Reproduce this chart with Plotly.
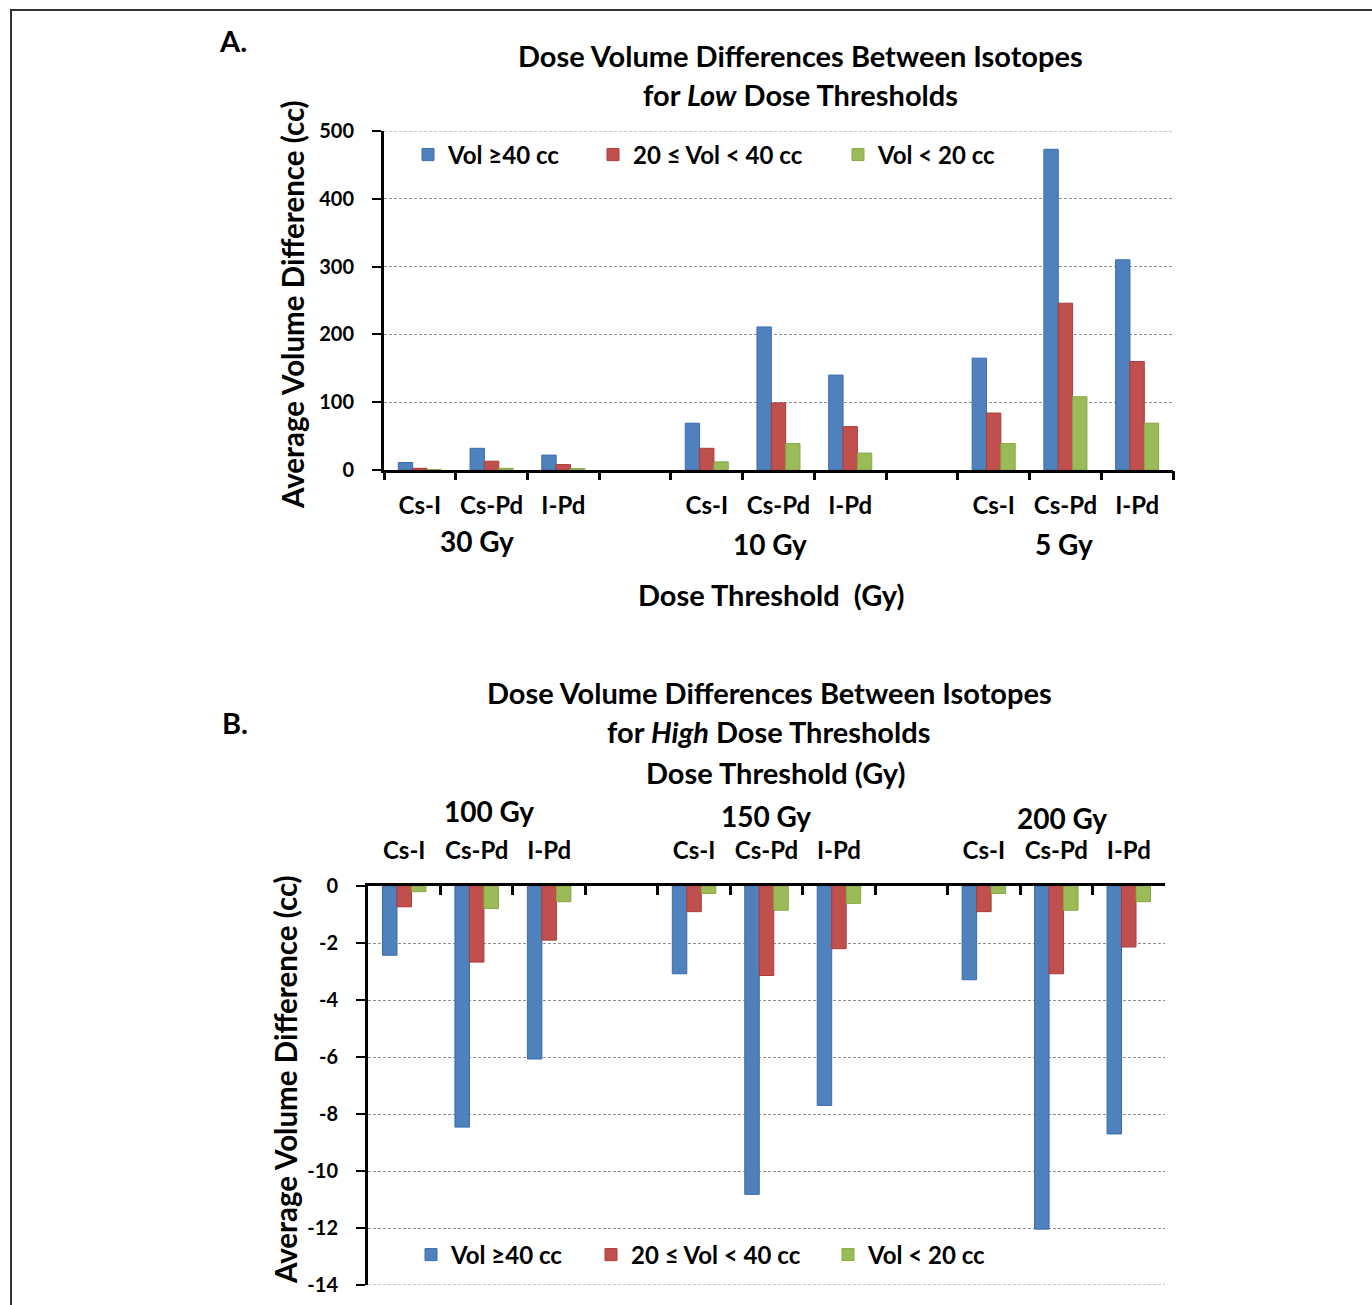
import plotly.graph_objects as go

W, H = 1372, 1305

# ---------------- data ----------------
pair_labels = ["Cs-I", "Cs-Pd", "I-Pd", "Cs-I", "Cs-Pd", "I-Pd", "Cs-I", "Cs-Pd", "I-Pd"]
positions = [0, 1, 2, 4, 5, 6, 8, 9, 10]
boundaries = [-0.5, 0.5, 1.5, 2.5, 3.5, 4.5, 5.5, 6.5, 7.5, 8.5, 9.5, 10.5]

low_groups = ["30 Gy", "10 Gy", "5 Gy"]
high_groups = ["100 Gy", "150 Gy", "200 Gy"]
series_names = ["Vol \u226540 cc", "20 \u2264 Vol < 40 cc", "Vol < 20 cc"]

low_ticks = [0, 100, 200, 300, 400, 500]
high_ticks = [0, -2, -4, -6, -8, -10, -12, -14]
high_tick_text = ["0", "-2", "-4", "-6", "-8", "-10", "-12", "-14"]

low_ge40 = [11, 32, 22, 69, 211, 140, 165, 473, 310]
low_20_40 = [2.5, 13, 8, 32, 99, 64, 84, 246, 160]
low_lt20 = [0.5, 2.5, 2, 12, 39, 25, 39, 108, 69]

high_ge40 = [-2.43, -8.46, -6.07, -3.08, -10.82, -7.7, -3.29, -12.04, -8.7]
high_20_40 = [-0.73, -2.67, -1.9, -0.9, -3.14, -2.2, -0.9, -3.08, -2.14]
high_lt20 = [-0.2, -0.79, -0.55, -0.26, -0.85, -0.61, -0.26, -0.85, -0.55]

colors = ["#4F81BD", "#C0504D", "#9BBB59"]
edges = ["#3A6BAE", "#B03A37", "#86A843"]

FONT = "Lato"
BLACK = "#000000"


def px(x):
    return x / W


def py(y):
    return 1 - y / H


fig = go.Figure()

low_series = [low_ge40, low_20_40, low_lt20]
high_series = [high_ge40, high_20_40, high_lt20]
for i in range(3):
    fig.add_trace(go.Bar(
        x=positions, y=low_series[i], name=series_names[i],
        marker=dict(color=colors[i], line=dict(color=edges[i], width=1)),
        xaxis="x", yaxis="y", legend="legend" if i == 0 else f"legend{i+1}",
    ))
for i in range(3):
    fig.add_trace(go.Bar(
        x=positions, y=high_series[i], name=series_names[i],
        marker=dict(color=colors[i], line=dict(color=edges[i], width=1)),
        xaxis="x2", yaxis="y2", legend=f"legend{i+4}",
    ))
# invisible helper traces so the boundary-tick axes get drawn
fig.add_trace(go.Scatter(x=[None], y=[None], xaxis="x3", yaxis="y", mode="markers",
                         showlegend=False, hoverinfo="skip"))
fig.add_trace(go.Scatter(x=[None], y=[None], xaxis="x4", yaxis="y2", mode="markers",
                         showlegend=False, hoverinfo="skip"))

grid = dict(showgrid=True, gridcolor="#8f8f8f", gridwidth=1, griddash="3px,2px")
tickfont = dict(family=FONT, size=24, color=BLACK, weight="bold")
ytickfont = dict(family=FONT, size=20, color=BLACK, weight="bold")

A_dom_x = [px(384), px(1173)]
A_dom_y = [py(470), py(131)]
B_dom_x = [px(368), px(1165)]
B_dom_y = [py(1285), py(886)]

layout = dict(
    template="none",
    width=W, height=H,
    margin=dict(l=0, r=0, t=0, b=0, autoexpand=False),
    paper_bgcolor="white", plot_bgcolor="white",
    showlegend=True,
    barmode="group", bargap=0.4, bargroupgap=0,
    font=dict(family=FONT, color=BLACK),
    xaxis=dict(domain=A_dom_x, anchor="y", range=[-0.5, 10.5], automargin=False,
               tickmode="array", tickvals=positions, ticktext=pair_labels,
               ticks="", ticklabelstandoff=12, tickfont=tickfont,
               showline=True, linecolor=BLACK, linewidth=3, showgrid=False,
               zeroline=False),
    xaxis3=dict(overlaying="x", anchor="y", range=[-0.5, 10.5], automargin=False,
                tickmode="array", tickvals=boundaries, ticks="outside",
                ticklen=9, tickwidth=3, tickcolor=BLACK,
                showticklabels=False, showline=False, showgrid=False, zeroline=False),
    yaxis=dict(domain=A_dom_y, anchor="x", range=[0, 500], automargin=False,
               tickmode="array", tickvals=low_ticks,
               ticks="outside", ticklen=9, tickwidth=2, tickcolor=BLACK,
               ticklabelstandoff=14, tickfont=ytickfont,
               showline=True, linecolor=BLACK, linewidth=3, zeroline=False, **grid),
    xaxis2=dict(domain=B_dom_x, anchor="y2", side="top", range=[-0.5, 10.5], automargin=False,
                tickmode="array", tickvals=positions, ticktext=pair_labels,
                ticks="", ticklabelstandoff=14, tickfont=tickfont,
                showline=True, linecolor=BLACK, linewidth=3, showgrid=False,
                zeroline=False),
    xaxis4=dict(overlaying="x2", anchor="y2", side="top", range=[-0.5, 10.5], automargin=False,
                tickmode="array", tickvals=boundaries, ticks="inside",
                ticklen=9, tickwidth=3, tickcolor=BLACK,
                showticklabels=False, showline=False, showgrid=False, zeroline=False),
    yaxis2=dict(domain=B_dom_y, anchor="x2", range=[-14, 0], automargin=False,
                tickmode="array", tickvals=high_ticks, ticktext=high_tick_text,
                ticks="outside", ticklen=9, tickwidth=2, tickcolor=BLACK,
                ticklabelstandoff=14, tickfont=ytickfont,
                showline=True, linecolor=BLACK, linewidth=3, zeroline=False, **grid),
)

legend_pos = [(408, 155), (593, 155), (838, 155), (411, 1255), (591, 1255), (828, 1255)]
for k, (lx, ly) in enumerate(legend_pos):
    key = "legend" if k == 0 else f"legend{k+1}"
    layout[key] = dict(x=px(lx), y=py(ly), xanchor="left", yanchor="middle",
                       orientation="h", bgcolor="rgba(0,0,0,0)", borderwidth=0,
                       font=dict(family=FONT, size=24, color=BLACK, weight="bold"))

fig.update_layout(**layout)

annotations = []


def note(text, x, y, size, **kw):
    annotations.append(dict(text=text, x=px(x), y=py(y), xref="paper", yref="paper",
                            showarrow=False, xanchor=kw.get("xanchor", "center"),
                            yanchor="middle", textangle=kw.get("angle", 0),
                            font=dict(family=FONT, size=size, color=BLACK, weight="bold")))


# Panel A texts
note("A.", 217, 40, 29, xanchor="left")
note("Dose Volume Differences Between Isotopes", 800, 56, 29)
note("for <i>Low</i> Dose Thresholds", 800, 94, 29)
for g, gx, gy in zip(low_groups, [477, 770, 1064], [541, 544, 544]):
    note(g, gx, gy, 28)
note("Dose Threshold  (Gy)", 771, 594, 29)
note("Average Volume Difference (cc)", 293, 305, 29.5, angle=-90)

# Panel B texts
note("B.", 220, 722, 29, xanchor="left")
note("Dose Volume Differences Between Isotopes", 769, 693, 29)
note("for <i>High</i> Dose Thresholds", 768, 731, 29)
note("Dose Threshold (Gy)", 775, 772, 29)
for g, gx, gy in zip(high_groups, [489, 766, 1062], [811, 816, 818]):
    note(g, gx, gy, 28)
note("Average Volume Difference (cc)", 285, 1080, 29.5, angle=-90)

fig.update_layout(annotations=annotations)

# dashed gridlines at the range edges (500 and -14)
fig.add_shape(type="line", xref="x domain", yref="y", x0=0, x1=1, y0=500, y1=500,
              line=dict(color="#8f8f8f", width=1, dash="3px,2px"))
fig.add_shape(type="line", xref="x2 domain", yref="y2", x0=0, x1=1, y0=-14, y1=-14,
              line=dict(color="#8f8f8f", width=1, dash="3px,2px"))

# outer frame
fig.add_shape(type="rect", xref="paper", yref="paper",
              x0=px(11), y0=py(1340), x1=px(1400), y1=py(10),
              line=dict(color="#333333", width=2), fillcolor="rgba(0,0,0,0)")

fig.write_html("out.html")
